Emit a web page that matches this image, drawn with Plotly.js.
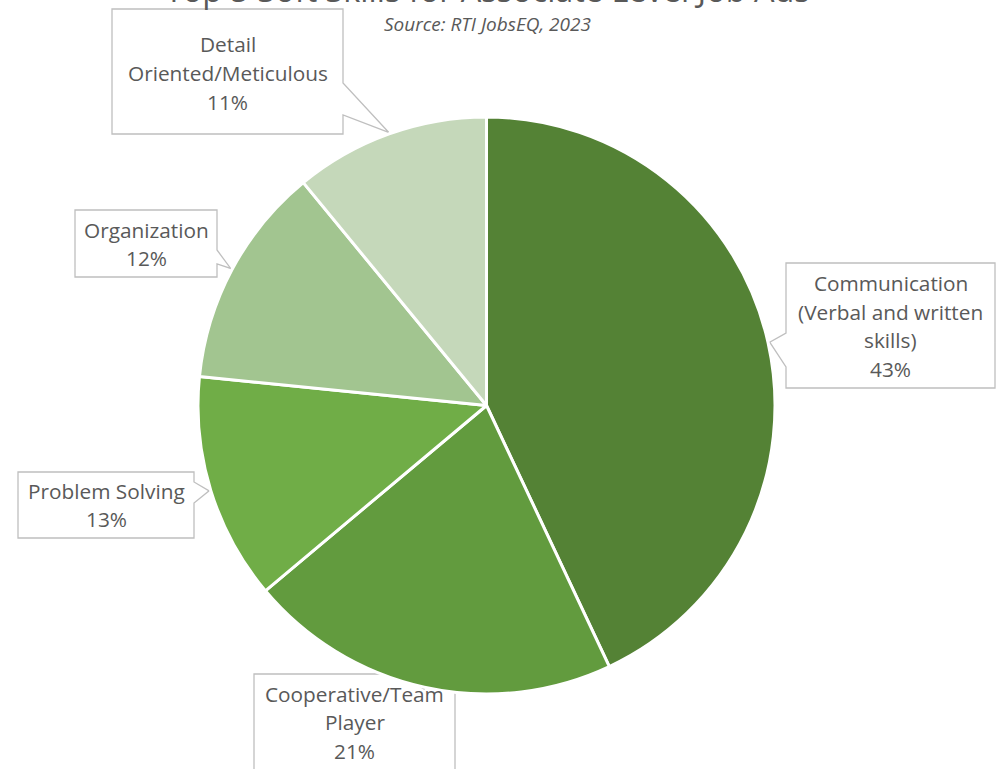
<!DOCTYPE html>
<html>
<head>
<meta charset="utf-8">
<script src="https://cdn.plot.ly/plotly-3.0.1.min.js"></script>
<style>html,body{margin:0;padding:0;background:#fff;}#chart{width:1005px;height:769px;}</style>
</head>
<body>
<div id="chart"></div>
<script>
// ---- data ----
const categories = [
  'Communication (Verbal and written skills)',
  'Cooperative/Team Player',
  'Problem Solving',
  'Organization',
  'Detail Oriented/Meticulous'
];
const shares = [43.0, 20.9, 12.7, 12.45, 10.95];
const labelLines = [
  ['Communication', '(Verbal and written', 'skills)'],
  ['Cooperative/Team', 'Player'],
  ['Problem Solving'],
  ['Organization'],
  ['Detail', 'Oriented/Meticulous']
];
const sliceColors = ['#548235', '#629b3e', '#70ad47', '#a2c590', '#c5d8ba'];
const chartTitle = 'Top 5 Soft Skills for Associate Level Job Ads';
const sourceNote = 'Source: RTI JobsEQ, 2023';

// ---- layout geometry (pixels) ----
const W = 1005, H = 769;
const cx = 486.5, cy = 405.5, R = 288.5;
const px = x => x / W;
const py = y => 1 - y / H;

// callout boxes: [left, top, right, bottom], side of pointer, notch start/end along that side
const boxes = [
  {l: 786, t: 263, r: 995, b: 388, side: 'left',  n1: 333, n2: 367, cy: 326, cxp: 890.5},
  {l: 254, t: 674, r: 455, b: 800, side: 'top',   n1: 400, n2: 430, cy: 722, cxp: 354.5},
  {l: 18,  t: 472, r: 194, b: 538, side: 'right', n1: 482, n2: 503, cy: 505, cxp: 106},
  {l: 75,  t: 210, r: 217, b: 277, side: 'right', n1: 250, n2: 264, cy: 244, cxp: 146},
  {l: 112, t: 9,   r: 343, b: 134, side: 'right', n1: 83,  n2: 115, cy: 73,  cxp: 227.5}
];
const lineStep = 28.5;

const total = shares.reduce((a, b) => a + b, 0);
let cum = 0;
const shapes = [], annotations = [];
shares.forEach((v, i) => {
  const mid = (cum + v / 2) / total * 2 * Math.PI;
  cum += v;
  const tipX = cx + R * 1.006 * Math.sin(mid);
  const tipY = cy - R * 1.006 * Math.cos(mid);
  const bx = boxes[i];
  let pts;
  if (bx.side === 'right') {
    pts = [[bx.l, bx.t], [bx.r, bx.t], [bx.r, bx.n1], [tipX, tipY], [bx.r, bx.n2], [bx.r, bx.b], [bx.l, bx.b]];
  } else if (bx.side === 'left') {
    pts = [[bx.l, bx.t], [bx.r, bx.t], [bx.r, bx.b], [bx.l, bx.b], [bx.l, bx.n2], [tipX, tipY], [bx.l, bx.n1]];
  } else {
    pts = [[bx.l, bx.t], [bx.n1, bx.t], [tipX, tipY], [bx.n2, bx.t], [bx.r, bx.t], [bx.r, bx.b], [bx.l, bx.b]];
  }
  const path = 'M' + pts.map(p => px(p[0]).toFixed(5) + ',' + py(p[1]).toFixed(5)).join(' L') + ' Z';
  shapes.push({type: 'path', xref: 'paper', yref: 'paper', path: path,
    fillcolor: '#ffffff', line: {color: '#bfbfbf', width: 1.3}, layer: 'below'});
  const lines = labelLines[i].concat([Math.round(v / total * 100) + '%']);
  const y0 = bx.cy - (lines.length - 1) * lineStep / 2;
  lines.forEach((t, k) => {
    annotations.push({xref: 'paper', yref: 'paper', x: px(bx.cxp), y: py(y0 + k * lineStep),
      xanchor: 'center', yanchor: 'middle', text: t, showarrow: false,
      font: {family: 'Open Sans, sans-serif', size: 20.8, color: '#595959'}});
  });
});

annotations.push({xref: 'paper', yref: 'paper', x: px(487), y: py(-10.5), xanchor: 'center', yanchor: 'middle',
  text: chartTitle, showarrow: false, font: {family: 'Open Sans, sans-serif', size: 32.4, color: '#595959'}});
annotations.push({xref: 'paper', yref: 'paper', x: px(487), y: py(24), xanchor: 'center', yanchor: 'middle',
  text: '<i>' + sourceNote + '</i>', showarrow: false, font: {family: 'Open Sans, sans-serif', size: 19, color: '#595959'}});

const trace = {
  type: 'pie', labels: categories, values: shares, sort: false, direction: 'clockwise', rotation: 0,
  marker: {colors: sliceColors, line: {color: '#ffffff', width: 3}},
  textinfo: 'none', hoverinfo: 'label+percent', showlegend: false,
  domain: {x: [px(cx - R), px(cx + R)], y: [py(cy + R), py(cy - R)]}
};

const layout = {
  width: W, height: H, margin: {l: 0, r: 0, t: 0, b: 0},
  paper_bgcolor: '#ffffff', plot_bgcolor: '#ffffff',
  shapes: shapes, annotations: annotations, showlegend: false
};
Plotly.newPlot('chart', [trace], layout, {displayModeBar: false, staticPlot: true});
</script>
</body>
</html>
